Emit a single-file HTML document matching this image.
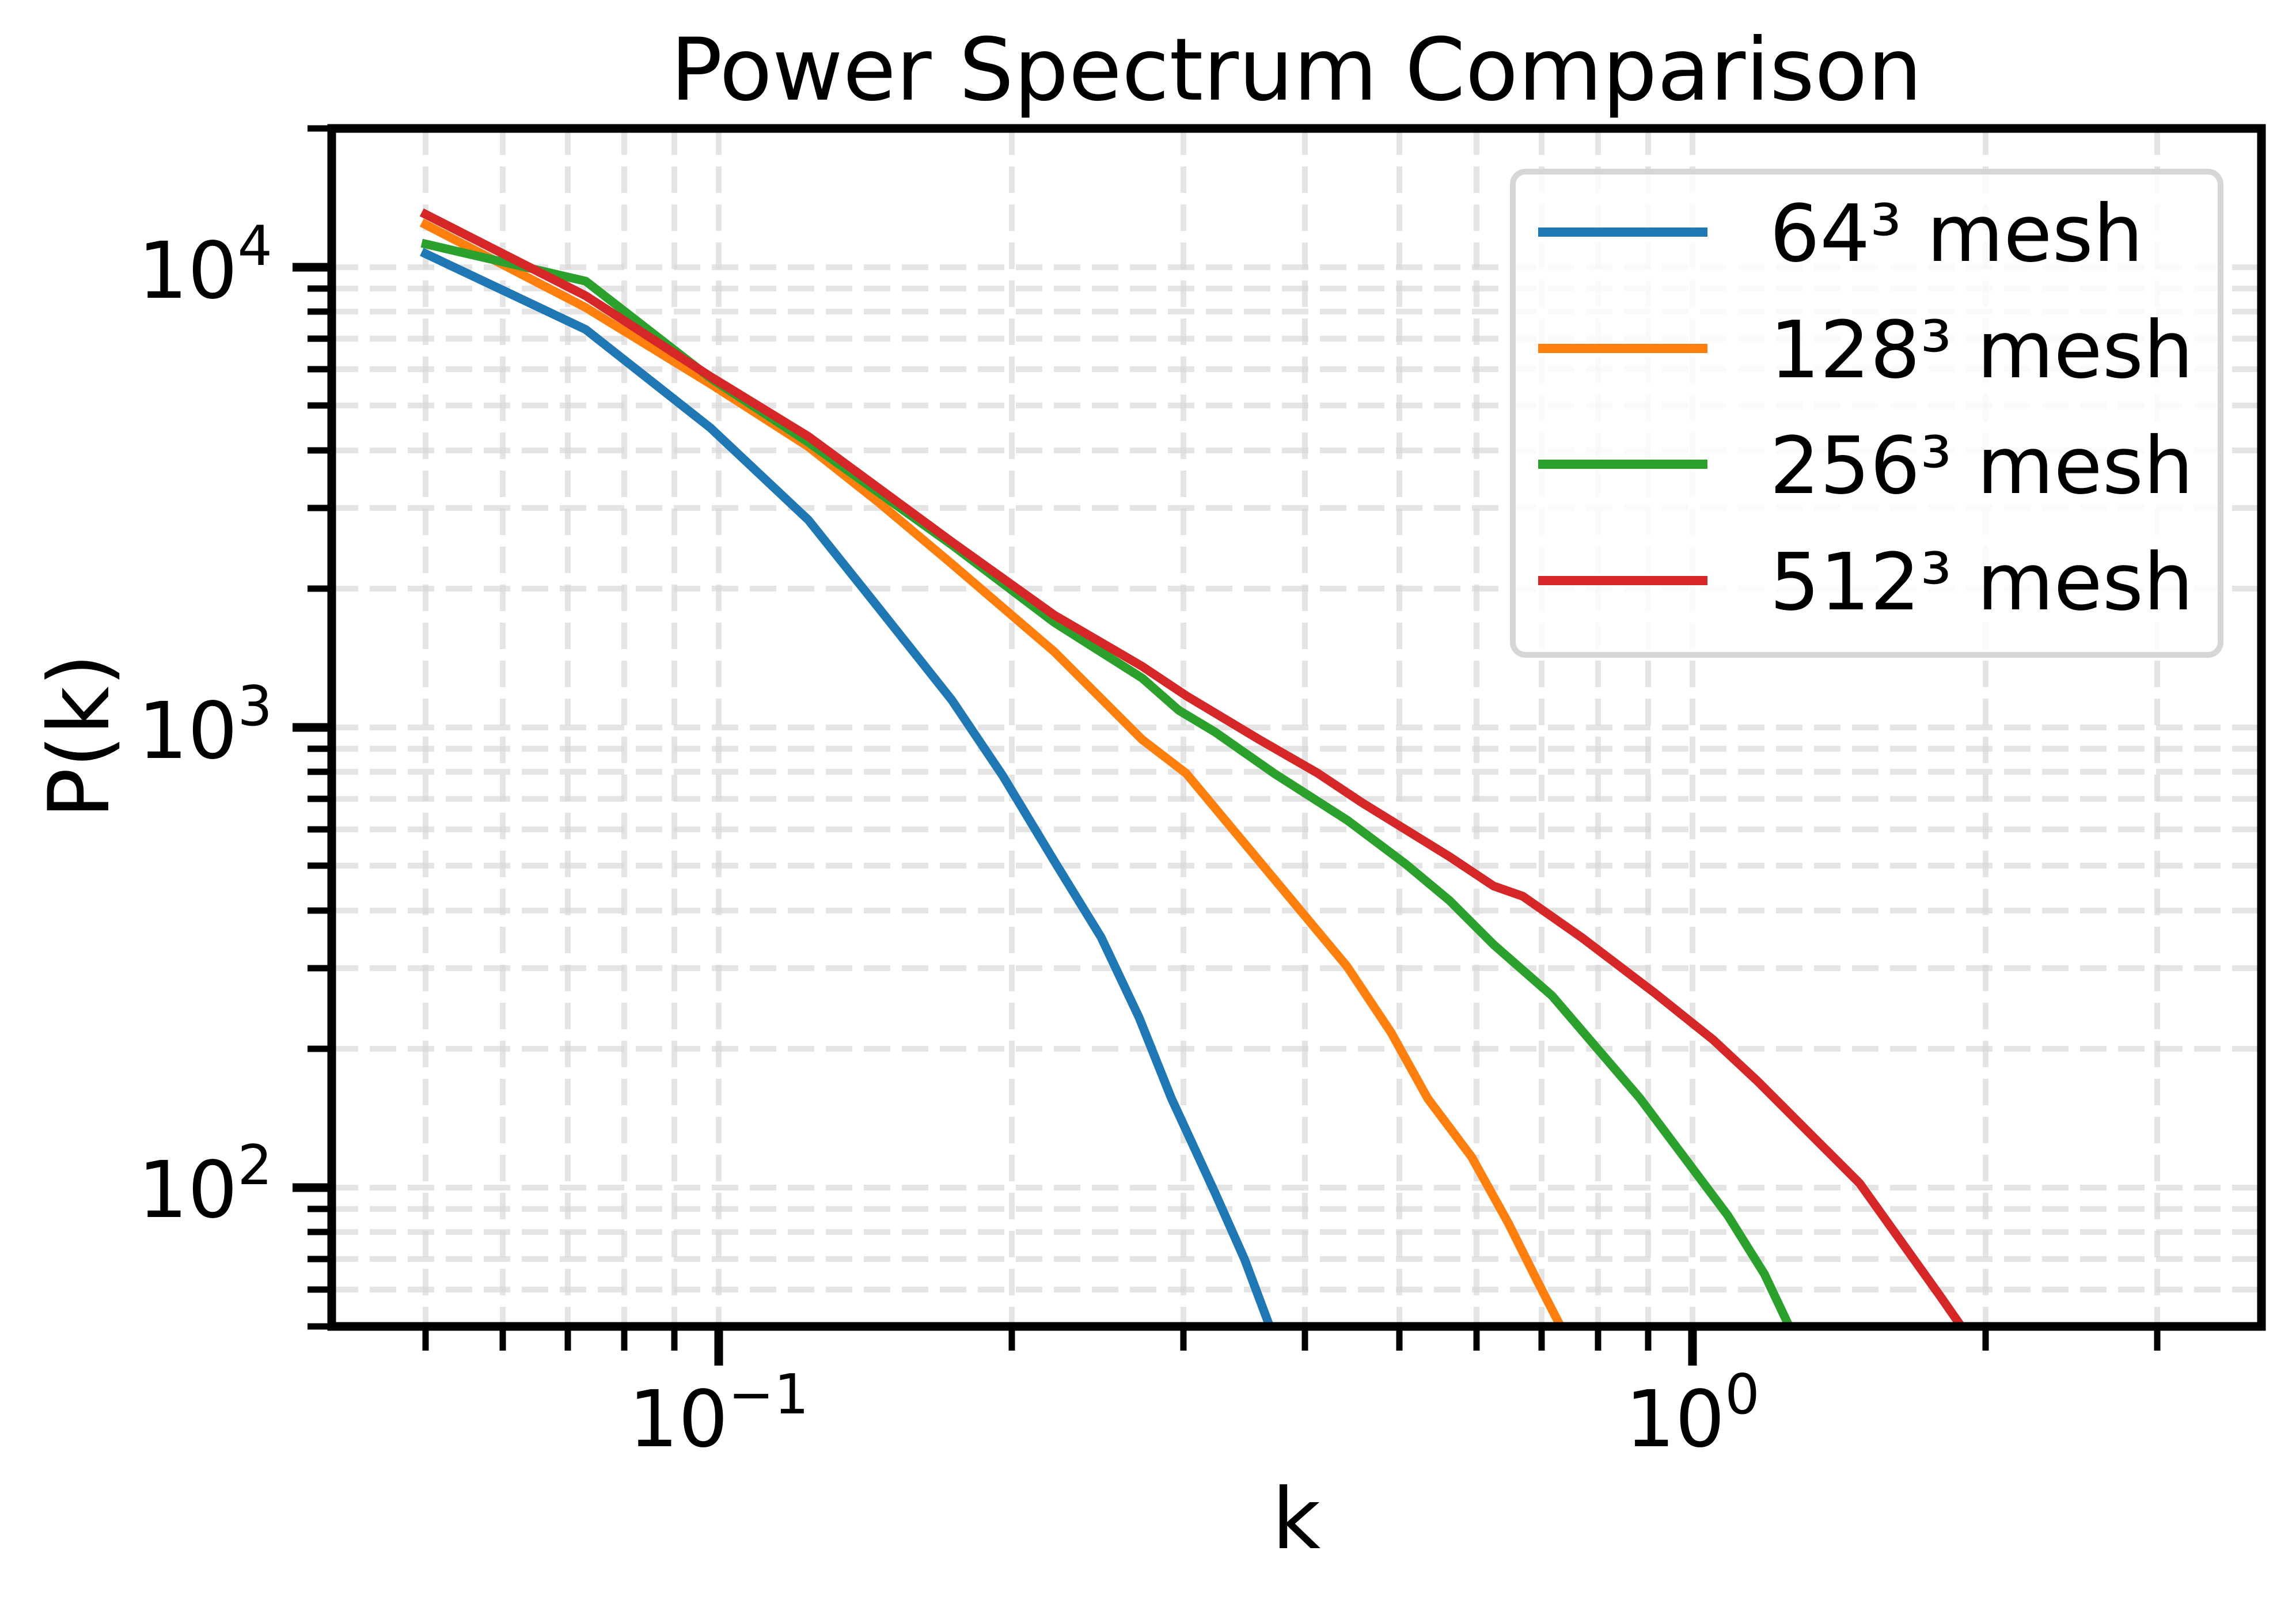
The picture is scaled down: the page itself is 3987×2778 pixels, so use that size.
<!DOCTYPE html>
<html><head><meta charset="utf-8"><style>
html,body{margin:0;padding:0;background:#fff;}
svg{display:block;}
text{font-family:"DejaVu Sans","Liberation Sans",sans-serif;fill:#000;}
</style></head><body>
<svg width="3987" height="2778" viewBox="0 0 3987 2778" xmlns="http://www.w3.org/2000/svg">
<defs><clipPath id="ax"><rect x="576" y="223" width="3351" height="2080"/></clipPath></defs>
<rect width="3987" height="2778" fill="#fff"/>
<g stroke="#d8d8d8" stroke-opacity="0.7" stroke-width="10" stroke-dasharray="46,20" fill="none">
<path d="M739 223V2303M873 223V2303M986 223V2303M1084 223V2303M1171 223V2303M1248 223V2303M1757 223V2303M2055 223V2303M2266 223V2303M2430 223V2303M2564 223V2303M2677 223V2303M2775 223V2303M2862 223V2303M2939 223V2303M3448 223V2303M3746 223V2303"/>
<path d="M576 2239H3927M576 2186H3927M576 2139H3927M576 2099H3927M576 2062H3927M576 1821H3927M576 1681H3927M576 1581H3927M576 1503H3927M576 1440H3927M576 1387H3927M576 1340H3927M576 1300H3927M576 1263H3927M576 1022H3927M576 882H3927M576 782H3927M576 704H3927M576 641H3927M576 588H3927M576 541H3927M576 501H3927M576 464H3927"/>
</g>
<g clip-path="url(#ax)">
<g transform="scale(2.5427)" fill="none" stroke-width="6" stroke-linejoin="round">
<polyline stroke="#1f77b4" points="288,172 400,225 485,292 552,355 600,415 650,478 685,530 720,588 752,640 778,695 800,750 830,815 850,860 868,908"/>
<polyline stroke="#ff7f0e" points="288,152 400,210 485,262 552,305 600,343 650,385 720,445 780,505 810,528 845,570 880,612 920,660 950,705 975,750 1005,790 1030,835 1050,875 1067,908"/>
<polyline stroke="#2ca02c" points="288,166 400,192 485,258 552,302 650,372 720,425 780,463 805,485 830,500 870,528 920,560 960,590 990,615 1020,645 1060,680 1090,715 1120,750 1150,790 1180,830 1205,870 1223,908"/>
<polyline stroke="#d62728" points="288,145 400,202 485,257 552,298 650,370 720,420 780,455 810,475 860,505 900,528 930,548 990,585 1020,605 1040,612 1080,640 1130,678 1170,710 1200,738 1240,778 1270,808 1300,850 1325,885 1341,908"/>
</g>
</g>
<rect x="2627" y="298" width="1229" height="839" rx="22" fill="#fff" fill-opacity="0.8" stroke="#d6d6d6" stroke-width="10"/>
<g stroke-width="16">
<line x1="2671" y1="403" x2="2965" y2="403" stroke="#1f77b4"/>
<line x1="2671" y1="605" x2="2965" y2="605" stroke="#ff7f0e"/>
<line x1="2671" y1="806" x2="2965" y2="806" stroke="#2ca02c"/>
<line x1="2671" y1="1008" x2="2965" y2="1008" stroke="#d62728"/>
</g>
<g font-size="137">
<text x="3073" y="453">64³ mesh</text>
<text x="3073" y="655">128³ mesh</text>
<text x="3073" y="856">256³ mesh</text>
<text x="3073" y="1058">512³ mesh</text>
</g>
<rect x="576" y="223" width="3351" height="2080" fill="none" stroke="#000" stroke-width="15"/>
<g stroke="#000" stroke-width="11">
<path d="M739 2303v42M873 2303v42M986 2303v42M1084 2303v42M1171 2303v42M1757 2303v42M2055 2303v42M2266 2303v42M2430 2303v42M2564 2303v42M2677 2303v42M2775 2303v42M2862 2303v42M3448 2303v42M3746 2303v42"/>
<path d="M576 2303h-42M576 2239h-42M576 2186h-42M576 2139h-42M576 2099h-42M576 1821h-42M576 1681h-42M576 1581h-42M576 1503h-42M576 1440h-42M576 1387h-42M576 1340h-42M576 1300h-42M576 1022h-42M576 882h-42M576 782h-42M576 704h-42M576 641h-42M576 588h-42M576 541h-42M576 501h-42M576 223h-42"/>
</g>
<g stroke="#000" stroke-width="15">
<path d="M1248 2303v68M2939 2303v68M576 2062h-68M576 1263h-68M576 464h-68"/>
</g>
<g font-size="136">
<text x="473" y="517" text-anchor="end">10<tspan font-size="95" dy="-57">4</tspan></text>
<text x="473" y="1316" text-anchor="end">10<tspan font-size="95" dy="-57">3</tspan></text>
<text x="473" y="2113" text-anchor="end">10<tspan font-size="95" dy="-57">2</tspan></text>
<text x="1248" y="2511" text-anchor="middle">10<tspan font-size="95" dy="-57">−1</tspan></text>
<text x="2939" y="2511" text-anchor="middle">10<tspan font-size="95" dy="-57">0</tspan></text>
</g>
<text x="2251" y="173" font-size="150" text-anchor="middle">Power Spectrum Comparison</text>
<text x="2251" y="2688" font-size="146" text-anchor="middle">k</text>
<text transform="translate(188,1278) rotate(-90)" font-size="146" text-anchor="middle">P(k)</text>
</svg>
</body></html>
